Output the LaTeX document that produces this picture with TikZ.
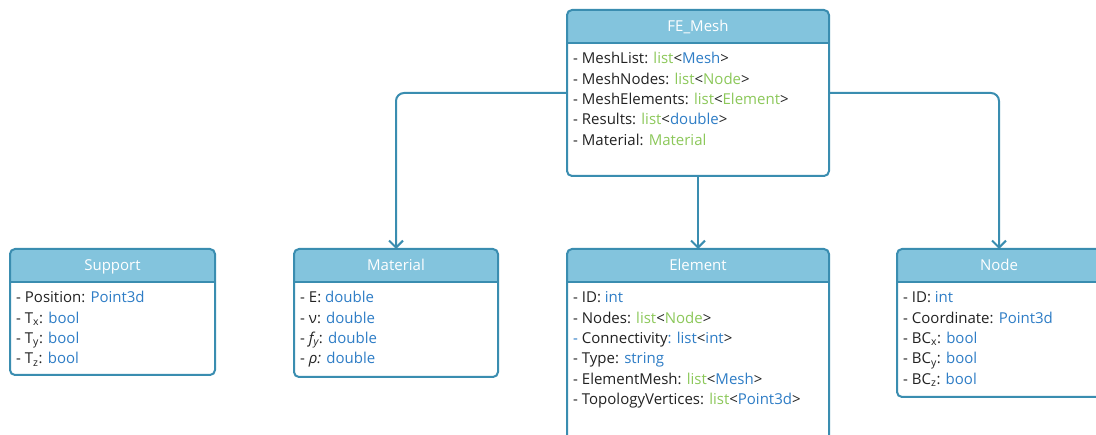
\documentclass[tikz,border=0pt]{standalone}
\usepackage{fontspec}
\setmainfont{Open Sans}
\usetikzlibrary{arrows.meta}
\definecolor{hdr}{HTML}{83C4DD}
\definecolor{bord}{HTML}{3A8DB0}
\definecolor{tblu}{HTML}{2E7DC6}
\definecolor{tgrn}{HTML}{8CC85A}
\definecolor{tblk}{HTML}{222222}
\newcommand{\blu}[1]{\textcolor{tblu}{#1}}
\newcommand{\grn}[1]{\textcolor{tgrn}{#1}}
\newcommand{\sbs}[1]{\textsubscript{#1}}
\newcommand{\rows}[1]{\begin{tabular}[t]{@{}l@{}}#1\end{tabular}}
\tikzset{
  classbox/.style={fill=white, draw=none, inner sep=0pt, outer sep=0pt},
  classborder/.style={draw=bord, line width=2pt, rounded corners=5pt},
  classtitle/.style={text=white, font=\fontsize{15}{18}\selectfont, inner sep=0pt, anchor=base},
  classbody/.style={text=tblk, font=\fontsize{15}{20.3}\selectfont, inner sep=0pt, anchor=base west},
  conn/.style={draw=bord, line width=2pt, rounded corners=8pt, -{Straight Barb[length=7pt,width=14pt,line width=2pt]}},
}
% name, x, y, w, h, title, body
\newcommand{\umlclass}[7]{%
  \node[classbox, minimum width=#4pt, minimum height=#5pt, anchor=north west] (#1) at (#2,#3) {};
  \begin{scope}
    \clip[rounded corners=5pt] (#1.north west) rectangle (#1.south east);
    \fill[hdr] (#1.north west) rectangle ([yshift=-33pt]#1.north east);
  \end{scope}
  \draw[bord, line width=2pt] ([yshift=-33pt]#1.north west) -- ([yshift=-33pt]#1.north east);
  \node[classtitle] (#1-title) at ([yshift=-22pt]#1.north) {#6};
  \node[classbody] (#1-body) at ([xshift=6pt,yshift=-54pt]#1.north west) {\rows{#7}};
  \draw[classborder] (#1.north west) rectangle (#1.south east);
}
\begin{document}
\begin{tikzpicture}[x=1pt,y=-1pt]
\useasboundingbox (0,0) rectangle (1096,435);
\umlclass{FEMesh}{567}{10}{262}{166}{FE\_Mesh}{%
- MeshList: \grn{list}<\blu{Mesh}>\\
- MeshNodes: \grn{list}<\grn{Node}>\\
- MeshElements: \grn{list}<\grn{Element}>\\
- Results: \grn{list}<\blu{double}>\\
- Material: \grn{Material}}
\umlclass{Support}{10}{249}{205}{126}{Support}{%
- Position: \blu{Point3d}\\
- T\sbs{x}: \blu{bool}\\
- T\sbs{y}: \blu{bool}\\
- T\sbs{z}: \blu{bool}}
\umlclass{Material}{294}{249}{204}{128}{Material}{%
- E: \blu{double}\\
- ν: \blu{double}\\
- \textit{f\sbs{y}}: \blu{double}\\
- \textit{ρ:} \blu{double}}
\umlclass{Element}{567}{249}{262}{192}{Element}{%
- ID: \blu{int}\\
- Nodes: \grn{list}<\grn{Node}>\\
\blu{-} Connectivity\blu{:} \blu{list}<\blu{int}>\\
- Type: \blu{string}\\
- ElementMesh: \grn{list}<\blu{Mesh}>\\
- TopologyVertices: \grn{list}<\blu{Point3d}>}
\umlclass{Node}{897}{249}{204}{148}{Node}{%
- ID: \blu{int}\\
- Coordinate: \blu{Point3d}\\
- BC\sbs{x}: \blu{bool}\\
- BC\sbs{y}: \blu{bool}\\
- BC\sbs{z}: \blu{bool}}
\draw[conn] (FEMesh.west) -| (Material.north);
\draw[conn] (FEMesh.south) -- (Element.north);
\draw[conn] (FEMesh.east) -| (Node.north);
\end{tikzpicture}
\end{document}
